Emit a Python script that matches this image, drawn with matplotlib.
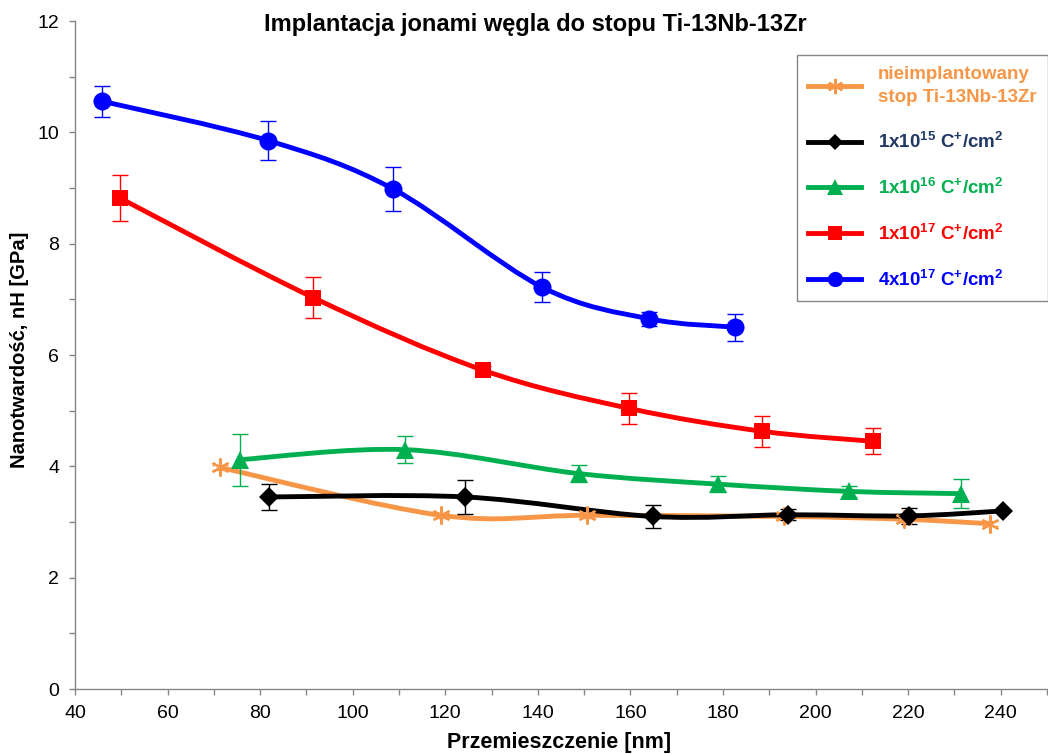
import matplotlib
matplotlib.use("Agg")
import matplotlib.pyplot as plt
import numpy as np
from matplotlib.lines import Line2D
from matplotlib.path import Path
from matplotlib.patches import PathPatch

plt.rcParams["font.family"] = ["Liberation Sans", "DejaVu Sans"]
plt.rcParams["mathtext.fontset"] = "custom"
plt.rcParams["mathtext.rm"] = "Liberation Sans:bold"
plt.rcParams["mathtext.it"] = "Liberation Sans:bold"
plt.rcParams["mathtext.bf"] = "Liberation Sans:bold"

# data
x_ref = [71.3, 119.1, 150.6, 193.2, 219.1, 237.6]
y_ref = [3.98, 3.12, 3.12, 3.10, 3.05, 2.97]
e_ref = [0.05, 0.05, 0.05, 0.05, 0.05, 0.05]

x_15 = [82.0, 124.3, 164.8, 194.1, 220.2, 240.6]
y_15 = [3.45, 3.45, 3.10, 3.13, 3.11, 3.20]
e_15 = [0.23, 0.30, 0.21, 0.10, 0.14, 0.0]

x_16 = [75.6, 111.3, 148.8, 179.0, 207.2, 231.4]
y_16 = [4.12, 4.30, 3.87, 3.68, 3.55, 3.51]
e_16 = [0.47, 0.24, 0.15, 0.14, 0.10, 0.26]

x_17 = [49.7, 91.5, 128.1, 159.8, 188.5, 212.4]
y_17 = [8.82, 7.03, 5.73, 5.04, 4.63, 4.45]
e_17 = [0.42, 0.37, 0.07, 0.28, 0.28, 0.23]

x_4e17 = [45.8, 81.8, 108.8, 140.9, 164.1, 182.7]
y_4e17 = [10.56, 9.85, 8.98, 7.22, 6.65, 6.50]
e_4e17 = [0.28, 0.35, 0.40, 0.27, 0.12, 0.24]

labels = ["nieimplantowany\nstop Ti-13Nb-13Zr",
          r"1x10$^{15}$ C$^{+}$/cm$^{2}$",
          r"1x10$^{16}$ C$^{+}$/cm$^{2}$",
          r"1x10$^{17}$ C$^{+}$/cm$^{2}$",
          r"4x10$^{17}$ C$^{+}$/cm$^{2}$"]

c_or = "#F79646"
c_bk = "#000000"
c_gr = "#00B050"
c_rd = "#FF0000"
c_bl = "#0000FF"
text_colors = [c_or, "#1F3864", c_gr, c_rd, c_bl]

series = [
    (x_ref, y_ref, e_ref, c_or, (6, 2, 0), 13),
    (x_15, y_15, e_15, c_bk, "D", 10),
    (x_16, y_16, e_16, c_gr, "^", 13),
    (x_17, y_17, e_17, c_rd, "s", 12),
    (x_4e17, y_4e17, e_4e17, c_bl, "o", 13),
]


def smooth_path(x, y):
    """Excel-like smoothed line as cubic bezier"""
    p = np.column_stack([x, y])
    p = np.vstack([p[0], p, p[-1]])
    verts = [p[1]]
    codes = [Path.MOVETO]
    for i in range(1, len(p) - 2):
        c1 = p[i] + (p[i + 1] - p[i - 1]) / 6
        c2 = p[i + 1] - (p[i + 2] - p[i]) / 6
        verts += [c1, c2, p[i + 1]]
        codes += [Path.CURVE4] * 3
    return Path(verts, codes)


fig = plt.figure(figsize=(10.48, 7.54), dpi=100)
ax = fig.add_axes([0.0716, 0.0862, 0.9274, 0.8859])

handles = []
for (x, y, e, c, m, ms), lab in zip(series, labels):
    ax.add_patch(PathPatch(smooth_path(x, y), fill=False, edgecolor=c,
                           lw=3.5, capstyle="round", zorder=2))
    ax.errorbar(x, y, yerr=e, fmt="none", ecolor=c, elinewidth=1,
                capsize=6, capthick=1, zorder=3)
    mew = 1.5 if m == (6, 2, 0) else 0
    ax.plot(x, y, ls="none", marker=m, ms=ms, color=c, mec=c, mew=mew,
            zorder=4)
    handles.append(Line2D([], [], color=c, lw=3.5, marker=m, ms=ms - 2,
                          mec=c, mew=mew, label=lab))

ax.set_xlim(40, 250)
ax.set_ylim(0, 12)
ax.set_xticks(np.arange(40, 250, 20))
ax.set_xticks(np.arange(40, 251, 10), minor=True)
ax.set_yticks(np.arange(0, 13, 2))
ax.set_yticks(np.arange(0, 13, 1), minor=True)

for s in ["top", "right"]:
    ax.spines[s].set_visible(False)
for s in ["left", "bottom"]:
    ax.spines[s].set_color("#868686")
    ax.spines[s].set_linewidth(1)

ax.tick_params(which="both", direction="out", length=4.3, width=1,
               color="#868686", labelsize=14, pad=7)

fig.text(0.5105, 0.967, "Implantacja jonami węgla do stopu Ti-13Nb-13Zr",
         ha="center", va="center", fontsize=17, fontweight="bold")
fig.text(0.019, 0.536, "Nanotwardość, nH [GPa]", rotation=90,
         ha="center", va="center", fontsize=14.5, fontweight="bold")
fig.text(0.533, 0.0146, "Przemieszczenie [nm]", ha="center", va="center",
         fontsize=15.5, fontweight="bold")

leg = ax.legend(handles=handles, loc="upper left",
                bbox_to_anchor=(797 / 1048, 1 - 55 / 754),
                bbox_transform=fig.transFigure, borderaxespad=0,
                frameon=True, fancybox=False,
                edgecolor="#868686", framealpha=1, borderpad=0.6,
                handlelength=2.8, handletextpad=0.9, labelspacing=1.38,
                prop={"size": 13.5, "weight": "bold"})
leg.get_frame().set_linewidth(1)
for t, c in zip(leg.get_texts(), text_colors):
    t.set_color(c)
    t.set_linespacing(1.45)

fig.savefig("out.png", dpi=100)
